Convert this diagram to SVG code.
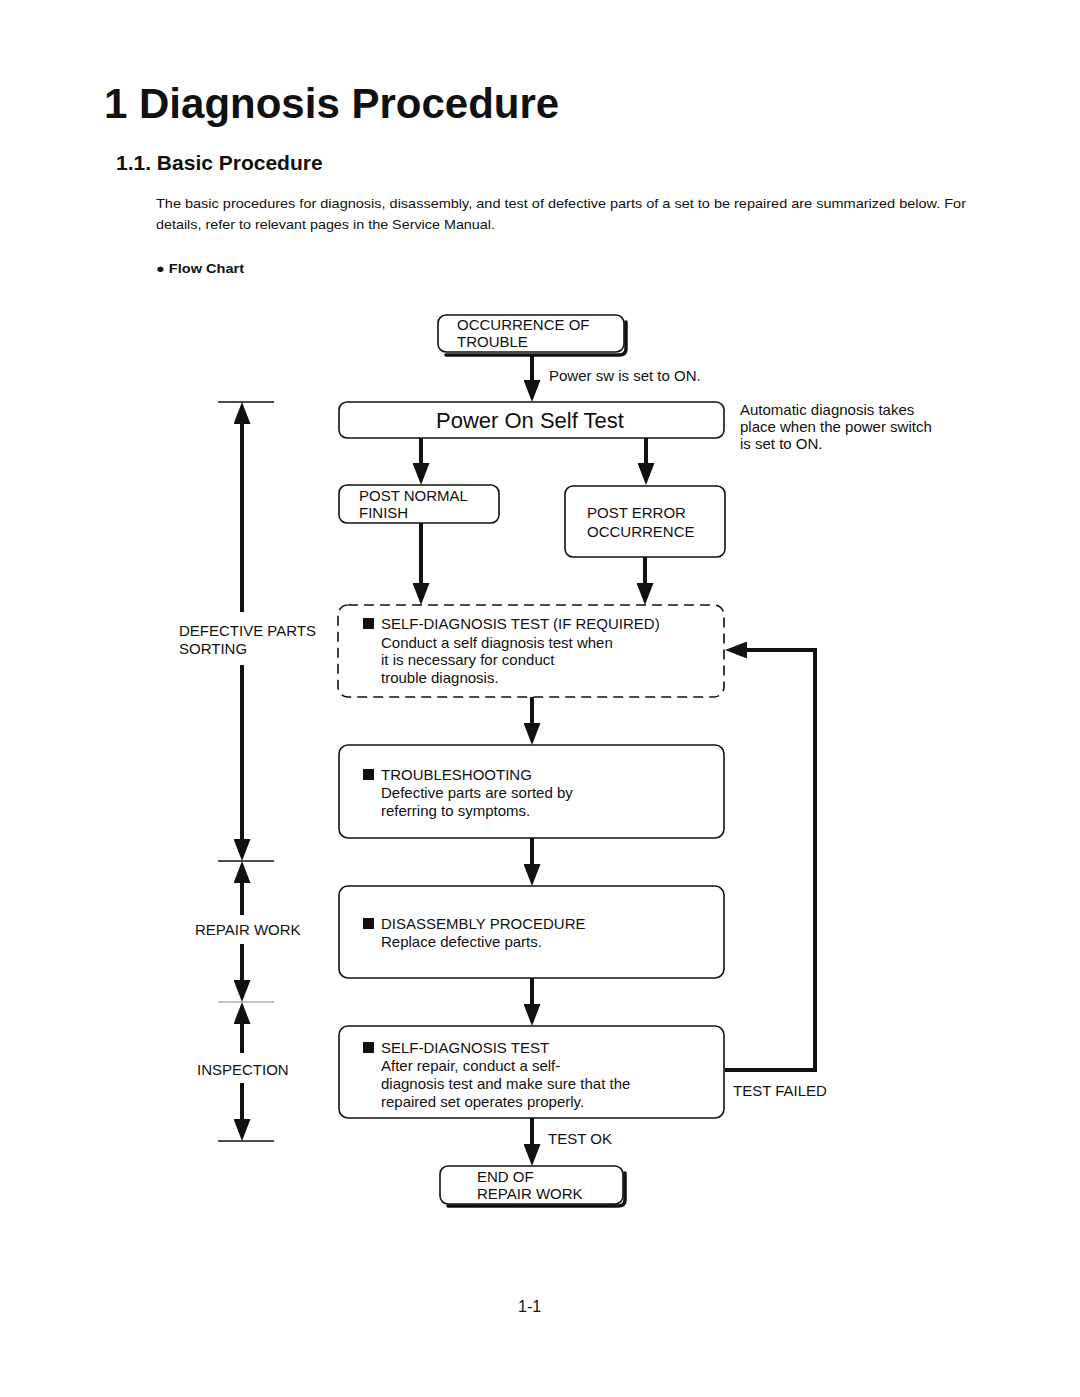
<svg xmlns="http://www.w3.org/2000/svg" width="1080" height="1397" viewBox="0 0 1080 1397">
<defs>
<style>
text{font-family:"Liberation Sans",Arial,sans-serif;fill:#111}
.box{fill:#fff;stroke:#111;stroke-width:1.6}
.dash{fill:none;stroke:#111;stroke-width:1.6;stroke-dasharray:10 6}
.shadow{fill:none;stroke:#111;stroke-width:3.5;stroke-linecap:round}
.t{font-size:15px}
.c{stroke:#111;stroke-width:4;fill:none}
.tick{stroke:#111;stroke-width:1.6}
.sq{fill:#111}
</style>
<marker id="ah" viewBox="0 0 22 17" markerWidth="22" markerHeight="17" refX="2" refY="8.5" orient="auto" markerUnits="userSpaceOnUse">
<path d="M0,0 L22,8.5 L0,17 z" fill="#111"/>
</marker>
</defs>
<rect width="1080" height="1397" fill="#fff"/>

<g id="header">
<text x="104" y="118" font-size="42" font-weight="bold">1 Diagnosis Procedure</text>
<text x="116" y="170" font-size="21" font-weight="bold">1.1. Basic Procedure</text>
<text x="156" y="208" font-size="13" textLength="810" lengthAdjust="spacingAndGlyphs">The basic procedures for diagnosis, disassembly, and test of defective parts of a set to be repaired are summarized below. For</text>
<text x="156" y="229" font-size="13" textLength="339" lengthAdjust="spacingAndGlyphs">details, refer to relevant pages in the Service Manual.</text>
<text x="156" y="273" font-size="13" font-weight="bold" textLength="88" lengthAdjust="spacingAndGlyphs">● Flow Chart</text>
</g>

<g id="connectors">
<line class="c" x1="532" y1="356" x2="532" y2="382" marker-end="url(#ah)"/>
<line class="c" x1="421" y1="438" x2="421" y2="465" marker-end="url(#ah)"/>
<line class="c" x1="646" y1="438" x2="646" y2="465" marker-end="url(#ah)"/>
<line class="c" x1="421" y1="523" x2="421" y2="585" marker-end="url(#ah)"/>
<line class="c" x1="645" y1="557" x2="645" y2="585" marker-end="url(#ah)"/>
<line class="c" x1="532" y1="697" x2="532" y2="725" marker-end="url(#ah)"/>
<line class="c" x1="532" y1="838" x2="532" y2="866" marker-end="url(#ah)"/>
<line class="c" x1="532" y1="978" x2="532" y2="1006" marker-end="url(#ah)"/>
<line class="c" x1="532" y1="1118" x2="532" y2="1146" marker-end="url(#ah)"/>
<path class="c" d="M725,1070 H815 V650 H745" marker-end="url(#ah)"/>
<text x="549" y="381" class="t">Power sw is set to ON.</text>
<text x="733" y="1096" class="t">TEST FAILED</text>
<text x="548" y="1144" class="t">TEST OK</text>
</g>

<g id="scale">
<line class="tick" x1="218" y1="402" x2="274" y2="402"/>
<line class="tick" x1="218" y1="861" x2="274" y2="861"/>
<line x1="218" y1="1002" x2="274" y2="1002" stroke="#888" stroke-width="1.2"/>
<line class="tick" x1="218" y1="1141" x2="274" y2="1141"/>
<line class="c" x1="242" y1="612" x2="242" y2="422" marker-end="url(#ah)"/>
<line class="c" x1="242" y1="665" x2="242" y2="841" marker-end="url(#ah)"/>
<line class="c" x1="242" y1="915" x2="242" y2="881" marker-end="url(#ah)"/>
<line class="c" x1="242" y1="944" x2="242" y2="982" marker-end="url(#ah)"/>
<line class="c" x1="242" y1="1053" x2="242" y2="1022" marker-end="url(#ah)"/>
<line class="c" x1="242" y1="1083" x2="242" y2="1121" marker-end="url(#ah)"/>
<text x="179" y="636" class="t">DEFECTIVE PARTS</text>
<text x="179" y="654" class="t">SORTING</text>
<text x="195" y="935" class="t">REPAIR WORK</text>
<text x="197" y="1075" class="t">INSPECTION</text>
</g>

<g id="occurrence">
<rect class="box" x="438" y="315" width="186" height="37" rx="8"/>
<path class="shadow" d="M626,322 V349 Q626,355 619,355 H446"/>
<text x="457" y="330" class="t">OCCURRENCE OF</text>
<text x="457" y="347" class="t">TROUBLE</text>
</g>

<g id="post">
<rect class="box" x="339" y="402" width="385" height="36" rx="8"/>
<text x="436" y="428" font-size="22">Power On Self Test</text>
</g>

<g id="note">
<text x="740" y="415" class="t">Automatic diagnosis takes</text>
<text x="740" y="432" class="t">place when the power switch</text>
<text x="740" y="449" class="t">is set to ON.</text>
</g>

<g id="post-normal">
<rect class="box" x="339" y="485" width="160" height="38" rx="8"/>
<text x="359" y="501" class="t">POST NORMAL</text>
<text x="359" y="518" class="t">FINISH</text>
</g>

<g id="post-error">
<rect class="box" x="565" y="486" width="160" height="71" rx="8"/>
<text x="587" y="518" class="t">POST ERROR</text>
<text x="587" y="537" class="t">OCCURRENCE</text>
</g>

<g id="self-diag-if">
<rect class="dash" x="338" y="605" width="386" height="92" rx="10"/>
<rect class="sq" x="363" y="618" width="11" height="11"/>
<text x="381" y="629" class="t">SELF-DIAGNOSIS TEST (IF REQUIRED)</text>
<text x="381" y="648" class="t">Conduct a self diagnosis test when</text>
<text x="381" y="665" class="t">it is necessary for conduct</text>
<text x="381" y="683" class="t">trouble diagnosis.</text>
</g>

<g id="troubleshooting">
<rect class="box" x="339" y="745" width="385" height="93" rx="9"/>
<rect class="sq" x="363" y="769" width="11" height="11"/>
<text x="381" y="780" class="t">TROUBLESHOOTING</text>
<text x="381" y="798" class="t">Defective parts are sorted by</text>
<text x="381" y="816" class="t">referring to symptoms.</text>
</g>

<g id="disassembly">
<rect class="box" x="339" y="886" width="385" height="92" rx="9"/>
<rect class="sq" x="363" y="918" width="11" height="11"/>
<text x="381" y="929" class="t">DISASSEMBLY PROCEDURE</text>
<text x="381" y="947" class="t">Replace defective parts.</text>
</g>

<g id="self-diag">
<rect class="box" x="339" y="1026" width="385" height="92" rx="9"/>
<rect class="sq" x="363" y="1042" width="11" height="11"/>
<text x="381" y="1053" class="t">SELF-DIAGNOSIS TEST</text>
<text x="381" y="1071" class="t">After repair, conduct a self-</text>
<text x="381" y="1089" class="t">diagnosis test and make sure that the</text>
<text x="381" y="1107" class="t">repaired set operates properly.</text>
</g>

<g id="end">
<rect class="box" x="440" y="1166" width="183" height="38" rx="8"/>
<path class="shadow" d="M625,1173 V1200 Q625,1206 618,1206 H448"/>
<text x="477" y="1182" class="t">END OF</text>
<text x="477" y="1199" class="t">REPAIR WORK</text>
</g>

<text x="518" y="1312" font-size="16">1-1</text>
</svg>
